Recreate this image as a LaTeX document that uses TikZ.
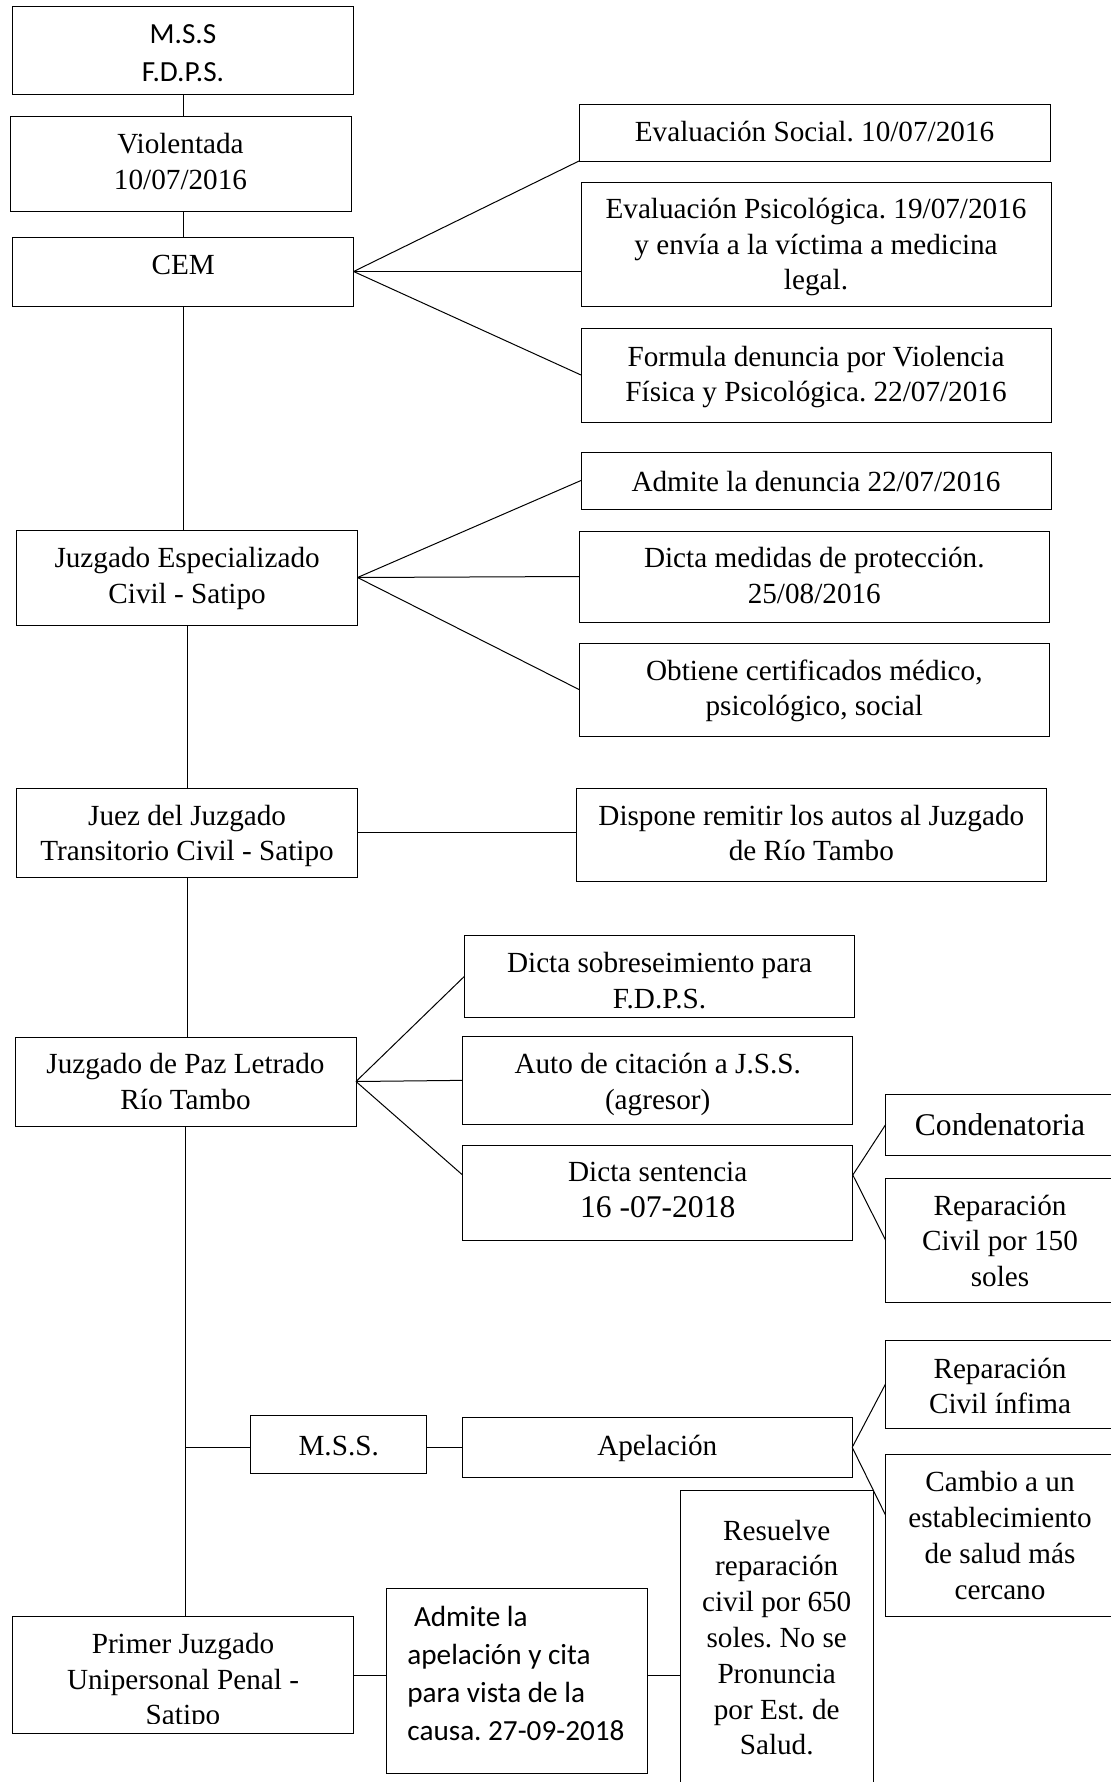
\documentclass[tikz,border=0pt]{standalone}
\usepackage{fontspec}
\setmainfont{Liberation Serif}
\newfontfamily\calfont{Carlito}
\usetikzlibrary{calc}
\frenchspacing
\newcommand\mlc[1]{\vtop{\halign{\hfil##\hfil\cr#1\crcr}}}
\newcommand\mll[1]{\vtop{\halign{##\hfil\cr#1\crcr}}}
\newcommand\bigsz{\fontsize{15.8}{19}\selectfont}
\newcommand\bx[5]{\node[box, minimum width={(#4-#2)*0.5pt}, minimum height={(#5-#3)*0.5pt}] (#1) at ({(#2+#4)/2},{(#3+#5)/2}) {};}
\tikzset{
  box/.style={draw, line width=0.5pt, inner sep=0pt, outer sep=0pt, rectangle},
  txt/.style={inner sep=0pt, anchor=base, font=\frenchspacing\fontsize{14.6}{17.9}\selectfont},
  stxt/.style={inner sep=0pt, anchor=base, font=\frenchspacing\calfont\fontsize{14.6}{19}\selectfont},
  link/.style={line width=0.5pt},
}
\begin{document}
\begin{tikzpicture}[x=0.5pt,y=-0.5pt]
\fill[white] (0,0) rectangle (1110,1782);
\useasboundingbox (0,0) rectangle (1110,1782);
% boxes
\bx{mss}{12.5}{7}{353.6}{95}
\bx{viol}{10}{117}{351}{211}
\bx{cem}{12.9}{237}{353.6}{306}
\bx{esoc}{579}{105}{1050}{161}
\bx{epsi}{581}{182}{1051}{306}
\bx{form}{581}{328}{1051}{422}
\bx{je}{16.8}{530}{357.5}{625}
\bx{adm}{581}{452}{1051}{509}
\bx{dmed}{579}{531}{1049.6}{622}
\bx{obt}{579}{643}{1049.6}{736}
\bx{juez}{16.8}{788}{357.5}{877}
\bx{disp}{576.5}{788}{1046}{881}
\bx{jpl}{15}{1037}{356}{1126}
\bx{dsob}{464.4}{935.7}{854.5}{1017}
\bx{auto}{462.6}{1036.7}{852.8}{1124}
\bx{dsen}{462.6}{1145}{852.8}{1240.3}
\bx{cond}{885.7}{1094}{1114}{1155}
\bx{rep150}{885.7}{1178}{1114}{1302.7}
\bx{repinf}{885.5}{1340}{1114}{1428}
\bx{cambio}{885.5}{1454}{1114}{1616.7}
\bx{mss2}{250.7}{1415.7}{426.8}{1473.3}
\bx{apel}{462.5}{1417}{852.2}{1477.7}
\bx{primer}{12.5}{1616.7}{353.6}{1733.7}
\bx{admite2}{386.8}{1588.3}{647}{1773}
\bx{resuelve}{680.3}{1490.7}{873.2}{1800}
% texts
\node[stxt] (t-mss) at (183,44) {\mlc{M.S.S\cr F.D.P.S.}};
\node[txt] (t-viol) at (180.5,153.3) {\mlc{Violentada\cr 10/07/2016}};
\node[txt] (t-cem) at (183.2,274) {CEM};
\node[txt] (t-esoc) at (814.5,141.7) {Evaluación Social. 10/07/2016};
\node[txt] (t-epsi) at (816,218.3) {\mlc{Evaluación Psicológica. 19/07/2016\cr y envía a la víctima a medicina\cr legal.}};
\node[txt] (t-form) at (816,366) {\mlc{Formula denuncia por Violencia\cr Física y Psicológica. 22/07/2016}};
\node[txt] (t-je) at (187.1,567.7) {\mlc{Juzgado Especializado\cr Civil - Satipo}};
\node[txt] (t-adm) at (816,491) {Admite la denuncia 22/07/2016};
\node[txt] (t-dmed) at (814.3,567.7) {\mlc{Dicta medidas de protección.\cr 25/08/2016}};
\node[txt] (t-obt) at (814.3,680) {\mlc{Obtiene certificados médico,\cr psicológico, social}};
\node[txt] (t-juez) at (187.1,825) {\mlc{Juez del Juzgado\cr Transitorio Civil - Satipo}};
\node[txt] (t-disp) at (811.3,825) {\mlc{Dispone remitir los autos al Juzgado\cr de Río Tambo}};
\node[txt] (t-jpl) at (185.5,1073.3) {\mlc{Juzgado de Paz Letrado\cr Río Tambo}};
\node[txt] (t-dsob) at (659.5,972.7) {\mlc{Dicta sobreseimiento para\cr F.D.P.S.}};
\node[txt] (t-auto) at (657.7,1073.3) {\mlc{Auto de citación a J.S.S.\cr (agresor)}};
\node[txt] (t-dsen) at (657.7,1181.7) {\mlc{Dicta sentencia\cr {\bigsz 16 -07-2018}}};
\node[txt] (t-cond) at (1000,1135) {\bigsz Condenatoria};
\node[txt] (t-rep150) at (1000,1215) {\mlc{Reparación\cr Civil por 150\cr soles}};
\node[txt] (t-repinf) at (1000,1378) {\mlc{Reparación\cr Civil ínfima}};
\node[txt] (t-cambio) at (1000,1491.7) {\mlc{Cambio a un\cr establecimiento\cr de salud más\cr cercano}};
\node[txt] (t-mss2) at (338.7,1455) {M.S.S.};
\node[txt] (t-apel) at (657.3,1455) {Apelación};
\begin{scope}
\clip (12.5,1616.7) rectangle (353.6,1723);
\node[txt] (t-primer) at (183,1653.3) {\mlc{Primer Juzgado\cr Unipersonal Penal -\cr Satipo}};
\end{scope}
\node[stxt, anchor=base west] (t-admite2) at (407,1626) {\mll{\ Admite la\cr apelación y cita\cr para vista de la\cr causa. 27-09-2018}};
\node[txt] (t-resuelve) at (776.7,1540) {\mlc{Resuelve\cr reparación\cr civil por 650\cr soles. No se\cr Pronuncia\cr por Est. de\cr Salud.}};
% connectors
\draw[link] (mss.south) -- (mss.south |- viol.north);
\draw[link] (cem.north |- viol.south) -- (cem.north);
\draw[link] (cem.south) -- (cem.south |- je.north);
\draw[link] (je.south) -- (je.south |- juez.north);
\draw[link] (juez.south) -- (juez.south |- jpl.north);
\draw[link] (jpl.south) -- (jpl.south |- primer.north);
\coordinate (br) at (jpl.south |- apel.west);
\draw[link] (br) -- (br -| mss2.west);
\draw[link] (mss2.east |- apel.west) -- (apel.west);
\draw[link] (cem.east) -- (esoc.south west);
\draw[link] (cem.east) -- (epsi.west |- cem.east);
\draw[link] (cem.east) -- (form.west);
\draw[link] (je.east) -- (adm.west);
\draw[link] (je.east) -- (dmed.west);
\draw[link] (je.east) -- (obt.west);
\draw[link] (juez.east) -- (disp.west |- juez.east);
\coordinate (dsenL) at ($(dsen.north west)+(0,30)$);
\coordinate (dsenR) at ($(dsen.north east)+(0,30)$);
\draw[link] (jpl.east) -- (dsob.west);
\draw[link] (jpl.east) -- (auto.west);
\draw[link] (jpl.east) -- (dsenL);
\draw[link] (dsenR) -- (cond.west);
\draw[link] (dsenR) -- (rep150.west);
\coordinate (cambL) at ($(cambio.north west)+(0,61)$);
\draw[link] (apel.east) -- (repinf.west);
\draw[link] (apel.east) -- (cambL);
\draw[link] (primer.east) -- (admite2.west |- primer.east);
\draw[link] (admite2.east |- primer.east) -- (resuelve.west |- primer.east);
\end{tikzpicture}
\end{document}
